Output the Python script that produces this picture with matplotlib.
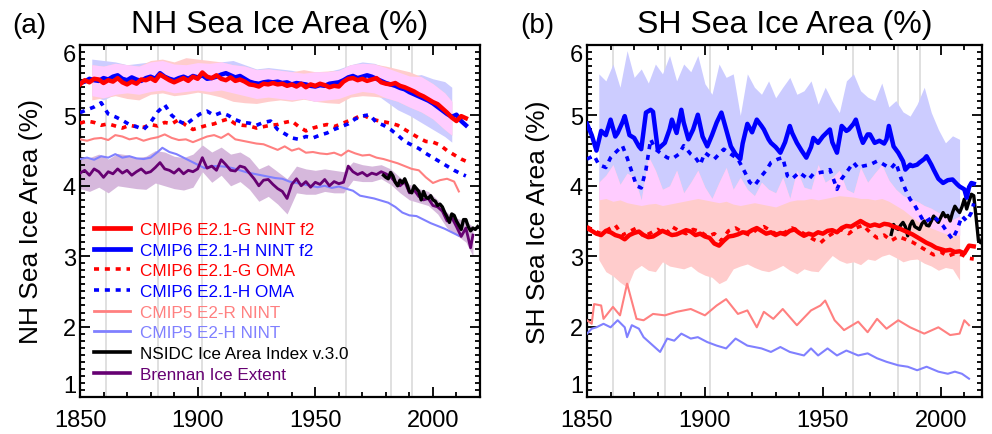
import numpy as np
import matplotlib
matplotlib.use("Agg")
import matplotlib.pyplot as plt
import matplotlib.transforms as mtransforms
from matplotlib.ticker import MultipleLocator, FuncFormatter
from matplotlib.lines import Line2D

plt.rcParams['font.family'] = ['Liberation Sans', 'DejaVu Sans']

# ---------------- NH data ----------------
nh_g_yr = [1850, 1852, 1854, 1856, 1858, 1860, 1862, 1864, 1866, 1868, 1870, 1872, 1874, 1876, 1878, 1880,
           1882, 1884, 1886, 1888, 1890, 1892, 1894, 1896, 1898, 1900, 1902, 1904, 1906, 1908, 1910, 1912,
           1914, 1916, 1918, 1920, 1922, 1924, 1926, 1928, 1930, 1932, 1934, 1936, 1938, 1940, 1942, 1944,
           1946, 1948, 1950, 1952, 1954, 1956, 1958, 1960, 1962, 1964, 1966, 1968, 1970, 1972, 1974, 1976,
           1978, 1980, 1982, 1984, 1986, 1988, 1990, 1992, 1994, 1996, 1998, 2000, 2002, 2004, 2006, 2008,
           2010, 2012, 2014]
nh_g = [5.44, 5.50, 5.47, 5.52, 5.51, 5.46, 5.50, 5.48, 5.53, 5.47, 5.44, 5.48, 5.45, 5.51, 5.50, 5.53,
        5.49, 5.58, 5.54, 5.50, 5.47, 5.50, 5.53, 5.49, 5.55, 5.52, 5.61, 5.55, 5.53, 5.57, 5.52, 5.50,
        5.54, 5.49, 5.51, 5.48, 5.44, 5.43, 5.41, 5.45, 5.44, 5.46, 5.44, 5.45, 5.42, 5.44, 5.41, 5.45,
        5.40, 5.44, 5.42, 5.45, 5.43, 5.40, 5.42, 5.41, 5.48, 5.52, 5.53, 5.50, 5.52, 5.49, 5.51, 5.53,
        5.47, 5.45, 5.44, 5.46, 5.42, 5.40, 5.37, 5.34, 5.30, 5.27, 5.23, 5.19, 5.16, 5.10, 5.04, 4.97,
        4.92, 4.99, 4.96]
nh_h = [5.46, 5.48, 5.52, 5.50, 5.49, 5.53, 5.51, 5.55, 5.57, 5.52, 5.50, 5.54, 5.51, 5.49, 5.53, 5.55,
        5.52, 5.60, 5.55, 5.52, 5.50, 5.53, 5.55, 5.52, 5.56, 5.54, 5.57, 5.52, 5.53, 5.55, 5.58, 5.60,
        5.57, 5.54, 5.56, 5.52, 5.48, 5.46, 5.45, 5.47, 5.48, 5.47, 5.48, 5.46, 5.47, 5.44, 5.46, 5.45,
        5.44, 5.42, 5.41, 5.43, 5.42, 5.45, 5.46, 5.47, 5.50, 5.54, 5.56, 5.53, 5.55, 5.57, 5.55, 5.52,
        5.49, 5.46, 5.44, 5.42, 5.39, 5.37, 5.33, 5.30, 5.27, 5.24, 5.21, 5.17, 5.12, 5.07, 5.02, 4.98,
        5.01, 4.92, 4.86]

nh_band_yr = [1855, 1860, 1865, 1870, 1875, 1880, 1885, 1890, 1895, 1900, 1905, 1910, 1915, 1920, 1925, 1930,
              1935, 1940, 1945, 1950, 1955, 1960, 1965, 1970, 1975, 1980, 1985, 1990, 1995, 2000, 2005, 2008]
nh_g_hi = [5.72, 5.70, 5.74, 5.72, 5.70, 5.78, 5.80, 5.76, 5.82, 5.80, 5.78, 5.76, 5.72, 5.70, 5.65, 5.66,
           5.64, 5.62, 5.65, 5.62, 5.63, 5.64, 5.72, 5.74, 5.73, 5.70, 5.66, 5.62, 5.55, 5.45, 5.32, 5.20]
nh_g_lo = [5.22, 5.25, 5.28, 5.24, 5.22, 5.30, 5.32, 5.28, 5.30, 5.33, 5.30, 5.26, 5.20, 5.18, 5.17, 5.20,
           5.22, 5.20, 5.23, 5.20, 5.18, 5.17, 5.26, 5.28, 5.27, 5.25, 5.20, 5.12, 5.05, 4.95, 4.80, 4.72]
nh_h_hi = [5.80, 5.78, 5.76, 5.72, 5.74, 5.76, 5.78, 5.73, 5.72, 5.75, 5.74, 5.76, 5.78, 5.72, 5.66, 5.68,
           5.66, 5.64, 5.60, 5.62, 5.62, 5.66, 5.72, 5.76, 5.74, 5.68, 5.62, 5.56, 5.58, 5.52, 5.48, 5.40]
nh_h_lo = [5.28, 5.22, 5.30, 5.32, 5.30, 5.34, 5.36, 5.32, 5.34, 5.36, 5.34, 5.36, 5.32, 5.28, 5.24, 5.26,
           5.24, 5.22, 5.24, 5.20, 5.22, 5.24, 5.30, 5.34, 5.32, 5.20, 5.08, 5.00, 4.90, 4.80, 4.70, 4.62]

nh_oma_yr = [1850, 1853, 1856, 1859, 1862, 1865, 1868, 1871, 1874, 1877, 1880, 1883, 1886, 1889, 1892, 1895,
             1898, 1901, 1904, 1907, 1910, 1913, 1916, 1919, 1922, 1925, 1928, 1931, 1934, 1937, 1940, 1943,
             1946, 1949, 1952, 1955, 1958, 1961, 1964, 1967, 1970, 1973, 1976, 1979, 1982, 1985, 1988, 1991,
             1994, 1997, 2000, 2003, 2006, 2009, 2012, 2014]
nh_g_oma = [4.89, 4.92, 4.90, 4.86, 4.88, 4.85, 4.82, 4.86, 4.84, 4.83, 4.87, 4.85, 4.90, 4.88, 4.94, 4.86,
            4.80, 4.83, 4.86, 4.88, 4.92, 4.95, 4.88, 4.86, 4.85, 4.82, 4.84, 4.86, 4.87, 4.90, 4.92, 4.84,
            4.78, 4.82, 4.85, 4.87, 4.84, 4.88, 4.92, 4.96, 5.01, 4.96, 4.93, 4.91, 4.89, 4.86, 4.80, 4.74,
            4.68, 4.63, 4.62, 4.58, 4.50, 4.44, 4.38, 4.35]
nh_h_oma = [5.04, 5.08, 5.12, 5.18, 5.02, 4.98, 4.93, 4.87, 4.84, 4.80, 4.90, 5.05, 5.15, 5.00, 4.92, 4.87,
            4.95, 5.02, 5.06, 5.00, 5.04, 5.00, 4.94, 4.90, 4.89, 4.86, 4.90, 4.92, 4.80, 4.74, 4.68, 4.66,
            4.70, 4.68, 4.72, 4.75, 4.80, 4.84, 4.88, 4.95, 4.99, 5.01, 4.90, 4.86, 4.80, 4.72, 4.63, 4.58,
            4.53, 4.46, 4.40, 4.34, 4.28, 4.22, 4.17, 4.14]

nh_c5r_yr = [1850, 1853, 1856, 1859, 1862, 1865, 1868, 1871, 1874, 1877, 1880, 1883, 1886, 1889, 1892, 1895,
             1898, 1901, 1904, 1907, 1910, 1913, 1916, 1919, 1922, 1925, 1928, 1931, 1934, 1937, 1940, 1943,
             1946, 1949, 1952, 1955, 1958, 1961, 1964, 1967, 1970, 1973, 1976, 1979, 1982, 1985, 1988, 1991,
             1994, 1997, 2000, 2003, 2006, 2009, 2011]
nh_c5r = [4.66, 4.64, 4.67, 4.68, 4.65, 4.72, 4.70, 4.66, 4.68, 4.64, 4.67, 4.69, 4.73, 4.68, 4.65, 4.66,
          4.62, 4.66, 4.70, 4.72, 4.68, 4.74, 4.66, 4.64, 4.62, 4.60, 4.59, 4.55, 4.51, 4.56, 4.50, 4.53,
          4.47, 4.48, 4.46, 4.45, 4.47, 4.43, 4.50, 4.46, 4.43, 4.44, 4.40, 4.38, 4.35, 4.32, 4.28, 4.24,
          4.22, 4.12, 4.04, 4.08, 4.10, 4.06, 3.92]

nh_c5h_yr = [1850, 1853, 1856, 1859, 1862, 1865, 1868, 1871, 1874, 1877, 1880, 1883, 1885, 1888, 1891, 1894,
             1897, 1900, 1903, 1906, 1909, 1912, 1915, 1918, 1921, 1924, 1927, 1930, 1933, 1936, 1939, 1942,
             1945, 1948, 1951, 1954, 1957, 1960, 1963, 1966, 1969, 1972, 1975, 1978, 1981, 1984, 1987, 1990,
             1993, 1996, 1999, 2002, 2005, 2008, 2011]
nh_c5h = [4.38, 4.40, 4.37, 4.42, 4.40, 4.45, 4.40, 4.42, 4.39, 4.38, 4.40, 4.48, 4.54, 4.48, 4.45, 4.40,
          4.35, 4.30, 4.25, 4.28, 4.28, 4.27, 4.25, 4.22, 4.19, 4.17, 4.15, 4.13, 4.11, 4.10, 4.06, 4.04,
          4.02, 4.00, 3.98, 4.00, 3.97, 3.99, 3.96, 3.93, 3.86, 3.84, 3.82, 3.79, 3.76, 3.70, 3.62, 3.58,
          3.57, 3.52, 3.47, 3.43, 3.39, 3.34, 3.29]

nh_bre_yr = [1850, 1852, 1854, 1856, 1858, 1860, 1862, 1864, 1866, 1868, 1870, 1872, 1874, 1876, 1878, 1880,
             1882, 1884, 1886, 1888, 1890, 1892, 1894, 1896, 1898, 1900, 1902, 1904, 1906, 1908, 1910, 1912,
             1914, 1916, 1918, 1920, 1922, 1924, 1926, 1928, 1930, 1932, 1934, 1936, 1938, 1940, 1942, 1944,
             1946, 1948, 1950, 1952, 1954, 1956, 1958, 1960, 1962, 1964, 1966, 1968, 1970, 1972, 1974, 1976,
             1978, 1980, 1982, 1984, 1986, 1988, 1990, 1992, 1994, 1996, 1998, 2000, 2002, 2004, 2006, 2008,
             2010, 2012, 2014, 2016, 2017]
nh_bre = [4.18, 4.22, 4.15, 4.24, 4.20, 4.12, 4.20, 4.17, 4.24, 4.18, 4.22, 4.15, 4.20, 4.24, 4.18, 4.20,
          4.26, 4.33, 4.24, 4.22, 4.18, 4.24, 4.17, 4.22, 4.20, 4.24, 4.40, 4.25, 4.28, 4.22, 4.37, 4.30,
          4.22, 4.21, 4.28, 4.26, 4.18, 4.10, 4.00, 4.08, 4.09, 4.02, 3.96, 3.92, 3.82, 4.02, 4.10, 4.00,
          4.06, 3.98, 4.05, 4.02, 4.09, 4.00, 4.06, 4.03, 4.05, 4.28, 4.20, 4.16, 4.19, 4.14, 4.18, 4.16,
          4.20, 4.17, 4.13, 4.05, 4.00, 4.06, 3.90, 3.94, 3.85, 3.80, 3.82, 3.72, 3.70, 3.64, 3.50, 3.55,
          3.42, 3.28, 3.40, 3.12, 3.30]
nh_bre_band_yr = [1850, 1854, 1858, 1862, 1866, 1870, 1874, 1878, 1882, 1886, 1890, 1894, 1898, 1902, 1906,
                  1910, 1914, 1918, 1922, 1926, 1930, 1934, 1938, 1942, 1946, 1950, 1954, 1958, 1962, 1966,
                  1970, 1974, 1978, 1982, 1986, 1990, 1994, 1998, 2002, 2006, 2010, 2014, 2017]
nh_bre_hi = [4.42, 4.40, 4.45, 4.38, 4.46, 4.44, 4.40, 4.42, 4.50, 4.48, 4.42, 4.40, 4.45, 4.58, 4.48,
             4.55, 4.45, 4.48, 4.40, 4.24, 4.30, 4.20, 4.10, 4.28, 4.24, 4.22, 4.24, 4.22, 4.20, 4.34,
             4.30, 4.28, 4.30, 4.24, 4.12, 4.02, 3.96, 3.92, 3.80, 3.62, 3.54, 3.50, 3.42]
nh_bre_lo = [3.96, 3.92, 3.98, 3.90, 4.00, 3.98, 3.96, 3.95, 4.04, 4.00, 3.96, 3.94, 3.98, 4.20, 4.05,
             4.15, 4.00, 4.06, 3.95, 3.78, 3.85, 3.74, 3.60, 3.90, 3.88, 3.88, 3.92, 3.90, 3.90, 4.08,
             4.06, 4.06, 4.10, 4.02, 3.90, 3.80, 3.76, 3.72, 3.60, 3.40, 3.30, 3.20, 3.00]

nh_obs_yr = list(range(1979, 2020))
nh_obs = [4.15, 4.12, 4.10, 4.19, 4.14, 4.05, 4.00, 4.08, 4.04, 4.10, 4.02, 3.92, 3.90, 4.00, 3.96, 3.92,
          3.80, 3.92, 3.84, 3.82, 3.86, 3.80, 3.78, 3.72, 3.74, 3.70, 3.62, 3.56, 3.48, 3.60, 3.58, 3.50,
          3.44, 3.38, 3.52, 3.52, 3.42, 3.36, 3.40, 3.38, 3.42]

# ---------------- SH data ----------------
sh_g_yr = nh_g_yr
sh_g = [3.40, 3.36, 3.32, 3.30, 3.36, 3.34, 3.30, 3.28, 3.24, 3.30, 3.33, 3.35, 3.30, 3.27, 3.28, 3.32,
        3.36, 3.33, 3.30, 3.31, 3.34, 3.37, 3.35, 3.30, 3.32, 3.28, 3.26, 3.18, 3.15, 3.22, 3.28, 3.29,
        3.31, 3.34, 3.33, 3.37, 3.40, 3.36, 3.32, 3.34, 3.30, 3.33, 3.31, 3.36, 3.38, 3.33, 3.29, 3.32,
        3.30, 3.34, 3.32, 3.36, 3.37, 3.34, 3.40, 3.43, 3.42, 3.46, 3.50, 3.46, 3.43, 3.45, 3.43, 3.46,
        3.45, 3.42, 3.40, 3.37, 3.34, 3.31, 3.27, 3.23, 3.19, 3.16, 3.12, 3.10, 3.08, 3.09, 3.06, 3.07,
        3.04, 3.15, 3.14]
sh_g_oma_yr = nh_oma_yr
sh_g_oma = [3.42, 3.36, 3.32, 3.38, 3.44, 3.30, 3.35, 3.40, 3.28, 3.33, 3.38, 3.30, 3.42, 3.36, 3.32, 3.38,
            3.35, 3.28, 3.32, 3.22, 3.36, 3.40, 3.34, 3.30, 3.38, 3.42, 3.36, 3.30, 3.34, 3.40, 3.36, 3.30,
            3.24, 3.19, 3.28, 3.34, 3.38, 3.32, 3.40, 3.44, 3.34, 3.26, 3.30, 3.22, 3.28, 3.24, 3.20, 3.14,
            3.08, 3.02, 3.06, 3.00, 3.04, 3.02, 2.97, 2.96]

sh_h_yr = [1850, 1852, 1854, 1856, 1858, 1860, 1862, 1863, 1865, 1866, 1868, 1870, 1872, 1873, 1875, 1877,
           1878, 1880, 1882, 1883, 1885, 1886, 1888, 1890, 1891, 1893, 1895, 1897, 1899, 1901, 1903, 1905,
           1907, 1909, 1911, 1913, 1915, 1916, 1918, 1920, 1922, 1924, 1925, 1927, 1928, 1930, 1932, 1934,
           1936, 1937, 1939, 1941, 1943, 1945, 1946, 1948, 1950, 1953, 1954, 1956, 1958, 1960, 1961, 1963,
           1964, 1966, 1967, 1969, 1970, 1972, 1974, 1976, 1977, 1978, 1980, 1982, 1984, 1985, 1987, 1988,
           1990, 1991, 1993, 1994, 1996, 1997, 1999, 2001, 2003, 2005, 2007, 2008, 2010, 2011, 2012, 2013,
           2014]
sh_h = [4.88, 4.72, 4.50, 4.78, 4.72, 4.94, 4.70, 4.75, 4.90, 4.99, 4.72, 4.68, 4.56, 4.52, 5.04, 5.08,
        5.05, 4.52, 4.58, 4.61, 4.80, 4.94, 4.75, 5.08, 4.90, 4.66, 4.80, 5.01, 4.70, 4.56, 4.72, 4.90,
        5.04, 4.80, 4.56, 4.45, 4.38, 4.60, 4.88, 4.76, 4.94, 4.85, 4.80, 4.66, 4.61, 4.55, 4.47, 4.62,
        4.85, 4.75, 4.61, 4.50, 4.40, 4.55, 4.68, 4.61, 4.70, 4.80, 4.62, 4.47, 4.85, 4.78, 4.80, 4.88,
        4.94, 4.70, 4.61, 4.73, 4.73, 4.61, 4.64, 4.60, 4.66, 4.85, 4.56, 4.47, 4.35, 4.23, 4.30, 4.28,
        4.30, 4.33, 4.38, 4.42, 4.30, 4.23, 4.10, 4.04, 4.08, 4.09, 4.02, 3.99, 3.95, 3.83, 3.98, 4.04,
        4.03]
sh_h_oma_yr = [1850, 1853, 1855, 1858, 1860, 1862, 1865, 1867, 1869, 1871, 1873, 1875, 1877, 1879, 1881, 1884,
               1886, 1889, 1891, 1894, 1896, 1898, 1900, 1902, 1904, 1906, 1908, 1911, 1914, 1917, 1919, 1921,
               1924, 1926, 1928, 1931, 1933, 1935, 1937, 1940, 1942, 1944, 1946, 1949, 1951, 1953, 1955, 1956,
               1958, 1960, 1963, 1965, 1967, 1970, 1973, 1975, 1977, 1979, 1981, 1983, 1985, 1987, 1989, 1991,
               1993, 1995, 1997, 1999, 2001, 2003, 2005, 2007, 2009, 2011, 2013, 2014]
sh_h_oma = [4.38, 4.43, 4.30, 4.26, 4.40, 4.47, 4.57, 4.40, 4.20, 4.00, 3.97, 4.23, 4.66, 4.52, 4.47, 4.40,
            4.38, 4.45, 4.57, 4.45, 4.40, 4.30, 4.47, 4.42, 4.38, 4.45, 4.52, 4.45, 4.38, 4.19, 4.05, 4.00,
            4.14, 4.22, 4.33, 4.38, 4.40, 4.14, 4.10, 4.19, 4.14, 4.09, 4.17, 4.19, 4.20, 4.23, 4.05, 3.95,
            4.10, 4.19, 4.33, 4.25, 4.28, 4.30, 4.35, 4.32, 4.28, 4.25, 4.33, 4.12, 3.95, 3.81, 3.72, 3.60,
            3.48, 3.52, 3.57, 3.50, 3.43, 3.33, 3.24, 3.38, 3.57, 3.50, 3.62, 3.75]

sh_band_yr = [1855, 1858, 1861, 1864, 1867, 1870, 1873, 1876, 1879, 1882, 1885, 1888, 1891, 1894, 1897, 1900,
              1903, 1906, 1909, 1912, 1915, 1918, 1921, 1924, 1927, 1930, 1933, 1936, 1939, 1942, 1945, 1948,
              1951, 1954, 1957, 1960, 1963, 1966, 1969, 1972, 1975, 1978, 1981, 1984, 1987, 1990, 1993, 1996,
              1999, 2002, 2005, 2008]
sh_h_hi = [5.59, 5.49, 5.73, 5.40, 5.92, 5.54, 5.66, 5.46, 5.73, 5.59, 5.85, 5.49, 5.73, 5.62, 5.85, 5.45,
           5.30, 5.73, 5.54, 5.59, 5.00, 5.59, 5.40, 5.30, 5.49, 5.25, 5.40, 5.54, 5.30, 5.35, 5.49, 5.16,
           5.40, 5.20, 5.04, 5.49, 5.59, 5.35, 5.26, 5.21, 5.46, 5.12, 5.21, 5.05, 4.99, 5.16, 5.40, 5.04,
           4.80, 4.61, 4.71, 4.66]
sh_h_lo = [3.80, 3.82, 3.78, 3.80, 3.76, 3.74, 3.72, 3.74, 3.75, 3.72, 3.74, 3.76, 3.78, 3.80, 3.82, 3.80,
           3.78, 3.76, 3.78, 3.74, 3.72, 3.74, 3.76, 3.74, 3.72, 3.70, 3.74, 3.78, 3.80, 3.80, 3.82, 3.80,
           3.82, 3.84, 3.86, 3.85, 3.84, 3.82, 3.82, 3.80, 3.82, 3.78, 3.72, 3.66, 3.58, 3.50, 3.45, 3.40,
           3.36, 3.32, 3.30, 3.30]
sh_g_hi = [4.05, 4.15, 4.30, 4.02, 4.18, 4.12, 3.80, 4.42, 4.22, 3.95, 4.00, 4.22, 3.90, 4.05, 4.22, 3.98,
           3.82, 4.05, 4.26, 3.95, 4.12, 3.95, 3.86, 4.05, 3.95, 3.90, 4.12, 3.82, 4.22, 3.98, 3.95, 4.30,
           4.05, 4.12, 4.22, 3.95, 3.90, 4.26, 4.05, 4.18, 4.30, 4.08, 3.95, 3.86, 3.82, 3.78, 3.72, 3.68,
           3.62, 3.60, 3.52, 3.57]
sh_g_lo = [2.95, 2.78, 2.72, 2.63, 2.56, 2.80, 2.87, 2.80, 2.78, 2.92, 2.86, 2.84, 2.82, 2.86, 2.78, 2.73,
           2.70, 2.61, 2.66, 2.82, 2.86, 2.89, 2.84, 2.80, 2.78, 2.82, 2.87, 2.80, 2.75, 2.82, 2.79, 2.78,
           2.90, 3.01, 2.94, 2.90, 2.92, 2.88, 2.96, 2.94, 3.00, 3.03, 2.98, 2.92, 2.95, 2.96, 2.90, 2.86,
           2.80, 2.84, 2.82, 2.66]

sh_c5r_yr = [1850, 1852, 1853, 1856, 1857, 1861, 1864, 1867, 1871, 1874, 1878, 1883, 1888, 1894, 1900, 1905,
             1909, 1914, 1918, 1922, 1925, 1929, 1933, 1939, 1945, 1949, 1951, 1955, 1959, 1965, 1969, 1973,
             1977, 1982, 1987, 1993, 1999, 2004, 2008, 2010, 2012]
sh_c5r = [2.09, 2.04, 2.32, 2.30, 2.11, 2.28, 2.16, 2.61, 2.11, 2.09, 2.18, 2.16, 2.21, 2.25, 2.16, 2.30,
          2.39, 2.18, 2.23, 1.99, 2.21, 2.11, 2.25, 2.02, 2.23, 2.30, 2.37, 2.09, 1.95, 2.07, 1.92, 2.11,
          1.97, 2.09, 1.99, 1.90, 1.99, 1.88, 1.90, 2.09, 2.02]
sh_c5h_yr = [1850, 1852, 1854, 1857, 1860, 1863, 1866, 1867, 1869, 1872, 1874, 1878, 1881, 1884, 1887, 1890,
             1894, 1897, 1901, 1905, 1909, 1913, 1918, 1924, 1928, 1932, 1936, 1942, 1945, 1948, 1952, 1956,
             1960, 1965, 1969, 1973, 1977, 1982, 1986, 1990, 1994, 1999, 2003, 2006, 2009, 2012]
sh_c5h = [1.90, 1.97, 1.99, 2.04, 1.99, 2.09, 1.99, 1.85, 2.02, 1.97, 1.85, 1.73, 1.64, 1.83, 1.80, 1.90,
          1.83, 1.85, 1.78, 1.73, 1.69, 1.83, 1.73, 1.69, 1.64, 1.71, 1.64, 1.59, 1.69, 1.59, 1.69, 1.59,
          1.66, 1.59, 1.62, 1.55, 1.50, 1.45, 1.43, 1.38, 1.43, 1.36, 1.33, 1.36, 1.33, 1.26]

sh_obs_yr = list(range(1979, 2019))
sh_obs = [3.31, 3.45, 3.40, 3.38, 3.44, 3.48, 3.42, 3.29, 3.44, 3.50, 3.42, 3.40, 3.38, 3.46, 3.50, 3.44,
          3.43, 3.50, 3.57, 3.52, 3.48, 3.55, 3.62, 3.56, 3.58, 3.50, 3.62, 3.71, 3.66, 3.62, 3.70, 3.81,
          3.67, 3.78, 3.88, 3.86, 3.55, 3.22, 3.19, 3.29]

volc_yr = [1861, 1883, 1902, 1963, 1982, 1991]

RED = '#FF0000'
BLUE = '#0000FF'
LRED = '#FF8080'
LBLUE = '#8080FF'
PURP = '#660072'
SALMON = '#FFCCCC'
LAV = '#CCCCFF'
PINK = '#FFCCFF'
DOT = (0, (1.4, 1.6))


def bands(ax, yr, g_lo, g_hi, h_lo, h_hi):
    yr = np.array(yr)
    g_lo, g_hi, h_lo, h_hi = map(np.array, (g_lo, g_hi, h_lo, h_hi))
    ax.fill_between(yr, h_lo, h_hi, color=LAV, lw=0, zorder=1)
    ax.fill_between(yr, g_lo, g_hi, color=SALMON, lw=0, zorder=1)
    lo = np.maximum(g_lo, h_lo)
    hi = np.minimum(g_hi, h_hi)
    ax.fill_between(yr, lo, hi, where=hi > lo, interpolate=True, color=PINK, lw=0, zorder=1.5)


def style(ax, xmax, ylabel, title):
    ax.set_xlim(1850, xmax)
    ax.set_ylim(1, 6)
    for v in volc_yr:
        ax.axvline(v, color='#DDDDDD', lw=1.3, zorder=0)
    ax.xaxis.set_major_locator(MultipleLocator(50))
    ax.xaxis.set_minor_locator(MultipleLocator(10))
    ax.yaxis.set_major_locator(MultipleLocator(1))
    ax.yaxis.set_minor_locator(MultipleLocator(0.1))
    # end labels (1 and 6) are drawn nudged inward, as in the original
    ax.yaxis.set_major_formatter(FuncFormatter(lambda v, p: '' if v in (1, 6) else '%d' % v))
    ax.tick_params(which='both', direction='in', top=True, right=True, labelsize=17, width=1.3)
    ax.tick_params(axis='x', pad=9)
    ax.tick_params(axis='y', pad=3)
    ax.tick_params(which='major', length=7)
    ax.tick_params(which='minor', length=3.5)
    for s in ax.spines.values():
        s.set_linewidth(1.6)
    base = mtransforms.blended_transform_factory(ax.transAxes, ax.transData)
    for v, dy in ((6, -10), (1, 11)):
        tr = mtransforms.offset_copy(base, fig=ax.figure, x=-4, y=dy, units='dots')
        ax.text(0, v, '%d' % v, transform=tr, ha='right', va='center', fontsize=17)
    ax.set_ylabel(ylabel, fontsize=19, labelpad=14)
    ax.set_title(title, fontsize=23, pad=9)


fig = plt.figure(figsize=(9.92, 4.35), dpi=100)
ax1 = fig.add_axes([80 / 992, 37 / 435, 400 / 992, 352 / 435])
ax2 = fig.add_axes([587 / 992, 37 / 435, 395 / 992, 352 / 435])

# NH panel
bands(ax1, nh_band_yr, nh_g_lo, nh_g_hi, nh_h_lo, nh_h_hi)
ax1.fill_between(nh_bre_band_yr, nh_bre_lo, nh_bre_hi, color='#D6B8DC', lw=0, zorder=1)
ax1.plot(nh_c5r_yr, nh_c5r, color=LRED, lw=1.5, zorder=3)
ax1.plot(nh_c5h_yr, nh_c5h, color=LBLUE, lw=1.5, zorder=3)
ax1.plot(nh_bre_yr, nh_bre, color=PURP, lw=2.0, zorder=3.2)
ax1.plot(nh_obs_yr, nh_obs, color='black', lw=2.4, zorder=3.4)
ax1.plot(nh_oma_yr, nh_g_oma, color=RED, lw=2.6, ls=DOT, zorder=3.5)
ax1.plot(nh_oma_yr, nh_h_oma, color=BLUE, lw=2.6, ls=DOT, zorder=3.5)
ax1.plot(nh_g_yr, nh_h, color=BLUE, lw=3.2, zorder=4)
ax1.plot(nh_g_yr, nh_g, color=RED, lw=3.2, zorder=4.1)
style(ax1, 2020, 'NH Sea Ice Area (%)', 'NH Sea Ice Area (%)')

# SH panel
bands(ax2, sh_band_yr, sh_g_lo, sh_g_hi, sh_h_lo, sh_h_hi)
ax2.plot(sh_c5r_yr, sh_c5r, color=LRED, lw=1.5, zorder=3)
ax2.plot(sh_c5h_yr, sh_c5h, color=LBLUE, lw=1.5, zorder=3)
ax2.plot(sh_obs_yr, sh_obs, color='black', lw=2.4, zorder=3.4)
ax2.plot(sh_g_oma_yr, sh_g_oma, color=RED, lw=2.6, ls=DOT, zorder=3.5)
ax2.plot(sh_h_oma_yr, sh_h_oma, color=BLUE, lw=2.6, ls=DOT, zorder=3.5)
ax2.plot(sh_h_yr, sh_h, color=BLUE, lw=3.2, zorder=4)
ax2.plot(sh_g_yr, sh_g, color=RED, lw=3.2, zorder=4.1)
style(ax2, 2017.5, 'SH Sea Ice Area (%)', 'SH Sea Ice Area (%)')

# legend
leg_labels = ['CMIP6 E2.1-G NINT f2', 'CMIP6 E2.1-H NINT f2', 'CMIP6 E2.1-G OMA', 'CMIP6 E2.1-H OMA',
              'CMIP5 E2-R NINT', 'CMIP5 E2-H NINT', 'NSIDC Ice Area Index v.3.0', 'Brennan Ice Extent']
leg_colors = [RED, BLUE, RED, BLUE, LRED, LBLUE, 'black', PURP]
leg_styles = ['-', '-', DOT, DOT, '-', '-', '-', '-']
leg_widths = [3.4, 3.4, 2.6, 2.6, 2.0, 2.0, 2.6, 2.6]
handles = [Line2D([], [], color=c, ls=s, lw=w) for c, s, w in zip(leg_colors, leg_styles, leg_widths)]
leg = ax1.legend(handles, leg_labels, loc='upper left', bbox_to_anchor=(0.035, 0.497), frameon=False,
                 fontsize=12.3, handlelength=2.1, handletextpad=0.6, labelspacing=0.33,
                 borderpad=0, borderaxespad=0)
for t, c in zip(leg.get_texts(), leg_colors):
    t.set_color(c)

fig.text(12 / 992, 1 - 33 / 435, '(a)', fontsize=20, va='baseline')
fig.text(520 / 992, 1 - 33 / 435, '(b)', fontsize=20, va='baseline')

fig.savefig('out.png', dpi=100)
